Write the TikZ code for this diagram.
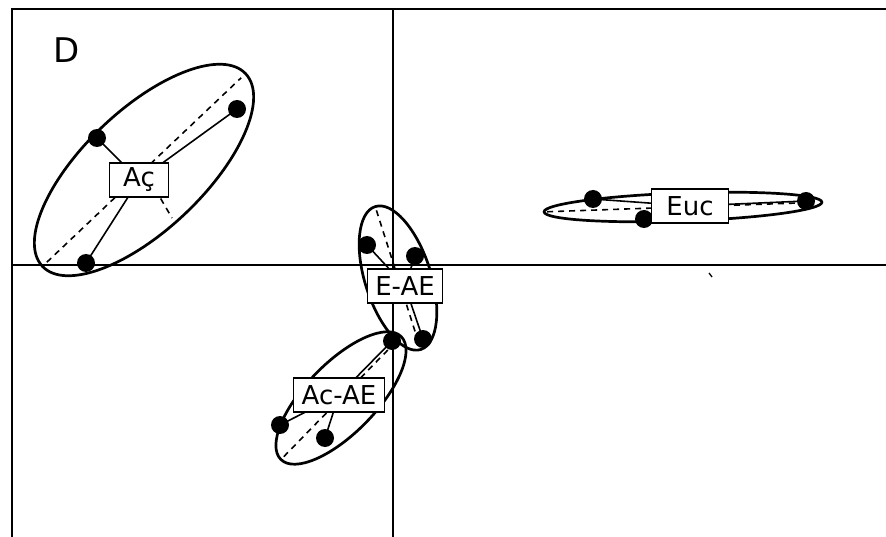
\documentclass[tikz,border=0pt]{standalone}
\usepackage{fontspec}
\setmainfont{DejaVu Sans}
\usetikzlibrary{calc}

\begin{document}
\begin{tikzpicture}[x=1pt, y=-1pt,
    every node/.style={font=\fontsize{26}{30}\selectfont},
    axe/.style={line width=1.3pt},
    grp/.style={line width=2.7pt},
    spoke/.style={line width=1.6pt},
    dsh/.style={line width=1.6pt, dash pattern=on 6pt off 5pt},
    dot/.style={circle, fill=black, minimum size=18pt, inner sep=0pt},
    lab/.style={draw, fill=white, line width=1.4pt, inner xsep=8pt, inner ysep=0pt, minimum height=34pt}]
    \useasboundingbox (0,0) rectangle (886,537);

    % frame and axes
    \coordinate (tl) at (12,9);
    \coordinate (tr) at (886,9);
    \coordinate (bl) at (12,537);
    \coordinate (hl) at (12,265);
    \coordinate (hr) at (886,265);
    \coordinate (vt) at (393,9);
    \coordinate (vb) at (393,537);
    \draw[axe] (bl) -- (tl) -- (tr);
    \draw[axe] (hl) -- (hr);
    \draw[axe] (vt) -- (vb);
    \coordinate (tk1) at (709,273);
    \coordinate (tk2) at (712,277);
    \draw[line width=1.3pt] (tk1) -- (tk2);

    \node[font=\fontsize{34}{40}\selectfont] (D) at (67,50) {D};

    % group centres
    \coordinate (ac)   at (144,170);
    \coordinate (eae)  at (398,278);
    \coordinate (acae) at (341,398);
    \coordinate (euc)  at (683,207);

    % ellipses
    \draw[grp, rotate around={43.5:(ac)}] (ac) ellipse [x radius=140pt, y radius=60pt];
    \draw[grp, rotate around={107.7:(eae)}] (eae) ellipse [x radius=75pt, y radius=33pt];
    \draw[grp, rotate around={45.7:(acae)}] (acae) ellipse [x radius=86pt, y radius=35pt];
    \draw[grp, rotate around={2:(euc)}] (euc) ellipse [x radius=139pt, y radius=14pt];

    % axes of the ellipses
    \draw[dsh] ($(ac)+(223.5:134pt)$) -- ($(ac)+(43.5:134pt)$);
    \coordinate (acm) at (172,218);
    \draw[dsh] (ac) -- (acm);
    \draw[dsh] ($(eae)+(107.7:71pt)$) -- ($(eae)+(-72.3:60pt)$);
    \draw[dsh] ($(acae)+(225.7:82pt)$) -- ($(acae)+(45.7:82pt)$);
    \draw[dsh] ($(euc)+(182:136pt)$) -- ($(euc)+(2:120pt)$);

    % points
    \coordinate (ac1) at (97,138);
    \coordinate (ac2) at (237,109);
    \coordinate (ac3) at (86,263);
    \coordinate (eae1) at (367,245);
    \coordinate (eae2) at (415,256);
    \coordinate (eae3) at (423,339);
    \coordinate (acae1) at (392,341);
    \coordinate (acae2) at (280,425);
    \coordinate (acae3) at (325,438);
    \coordinate (euc1) at (593,199);
    \coordinate (euc2) at (806,201);
    \coordinate (euc3) at (644,219);

    % label positions
    \coordinate (acl)   at (139,180);
    \coordinate (eael)  at (405,286);
    \coordinate (acael) at (339,395);
    \coordinate (eucl)  at (690,206);

    % spokes
    \foreach \p in {ac1,ac2,ac3} \draw[spoke] (\p) -- (acl);
    \foreach \p in {eae1,eae2,eae3} \draw[spoke] (\p) -- (eael);
    \foreach \p in {acae1,acae2,acae3} \draw[spoke] (\p) -- (acael);
    \foreach \p in {euc1,euc2,euc3} \draw[spoke] (\p) -- (eucl);

    \foreach \p in {ac1,ac2,ac3,eae1,eae2,eae3,acae1,acae2,acae3,euc1,euc2,euc3}
      \node[dot] (d-\p) at (\p) {};

    % labels
    \node[lab, minimum width=59pt] (Ac) at (acl) {Aç};
    \node[lab] (EAE) at (eael) {E-AE};
    \node[lab] (AcAE) at (acael) {Ac-AE};
    \node[lab, minimum width=77pt] (Euc) at (eucl) {Euc};
\end{tikzpicture}
\end{document}
